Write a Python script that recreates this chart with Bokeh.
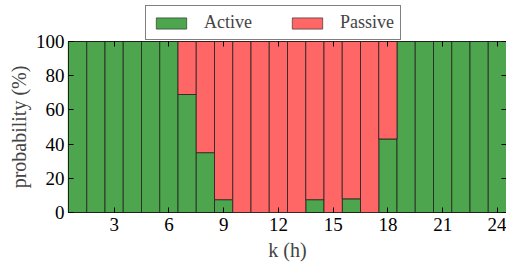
from bokeh.plotting import figure
from bokeh.layouts import column
from bokeh.models import (ColumnDataSource, Legend, LegendItem, FixedTicker, Range1d,
                          LinearAxis)
from bokeh.embed import file_html
from bokeh.resources import INLINE

hours = list(range(1, 25))
active = [100, 100, 100, 100, 100, 100, 69, 35, 7.5, 0, 0, 0, 0, 7.5, 0, 8, 0, 43,
          100, 100, 100, 100, 100, 100]
passive = [100 - a for a in active]
x_ticks = [3, 6, 9, 12, 15, 18, 21, 24]
y_ticks = [0, 20, 40, 60, 80, 100]

FONT = "Liberation Serif"
COLORS = ["#4DA64D", "#FF6666"]
W = 506
src = ColumnDataSource(dict(k=hours, Active=active, Passive=passive))

# ---- main chart
p = figure(width=W, height=231, output_backend="svg", toolbar_location=None,
           x_range=Range1d(0.5, 24.5), y_range=Range1d(0, 100),
           min_border_left=68, min_border_right=0, min_border_top=9, min_border_bottom=0)
p.border_fill_color = None

p.vbar_stack(["Active", "Passive"], x="k", width=1.0, source=src,
             color=COLORS, line_color="#222222", line_alpha=0.8, line_width=1)

p.grid.visible = False
p.outline_line_color = "black"
p.outline_line_width = 1.2

for ax in (p.xaxis[0], p.yaxis[0]):
    ax.axis_line_color = None
    ax.major_tick_in = 5
    ax.major_tick_out = 0
    ax.minor_tick_line_color = None
    ax.major_label_text_font = FONT
    ax.major_label_text_font_size = "19px"
    ax.major_label_text_color = "black"
    ax.axis_label_text_font = FONT
    ax.axis_label_text_font_size = "20px"
    ax.axis_label_text_font_style = "normal"
p.xaxis[0].ticker = FixedTicker(ticks=x_ticks)
p.yaxis[0].ticker = FixedTicker(ticks=y_ticks)
p.xaxis[0].axis_label = "k (h)"
p.yaxis[0].axis_label = "probability (%)"
p.xaxis[0].major_label_standoff = 5
p.yaxis[0].major_label_standoff = 4
p.xaxis[0].axis_label_standoff = 5
p.yaxis[0].axis_label_standoff = 3

# mirrored inner ticks on top and right (no labels)
top_ax = LinearAxis(ticker=FixedTicker(ticks=x_ticks), axis_line_color=None,
                    major_tick_in=5, major_tick_out=0, minor_tick_line_color=None,
                    major_label_overrides={t: "" for t in x_ticks},
                    major_label_standoff=0)
p.add_layout(top_ax, "above")
right_ax = LinearAxis(ticker=FixedTicker(ticks=y_ticks), axis_line_color=None,
                      major_tick_in=5, major_tick_out=0, minor_tick_line_color=None,
                      major_label_overrides={t: "" for t in y_ticks},
                      major_label_standoff=0)
p.add_layout(right_ax, "right")

# ---- legend strip (its bars sit outside its own visible range)
lg = figure(width=W, height=40, output_backend="svg", toolbar_location=None,
            x_range=Range1d(-10, -9), y_range=Range1d(0, 1),
            x_axis_type=None, y_axis_type=None,
            min_border_left=0, min_border_right=0, min_border_top=0, min_border_bottom=0,
            margin=(0, 0, -8, 0))
lg.outline_line_color = None
lg.grid.visible = False
rl = lg.vbar_stack(["Active", "Passive"], x="k", width=1.0, source=src,
                   color=COLORS, line_color="#222222", line_alpha=0.6, line_width=1)

legend = Legend(items=[LegendItem(label="Active", renderers=[rl[0]]),
                       LegendItem(label="Passive", renderers=[rl[1]])],
                orientation="horizontal", location=(77, 0),
                label_text_font=FONT, label_text_font_size="18px",
                glyph_width=38, glyph_height=14, spacing=36, padding=6,
                label_standoff=14, margin=0,
                border_line_color="black", border_line_width=1.2)
lg.add_layout(legend)

layout = column(lg, p, spacing=0)
open("out.html", "w").write(file_html(layout, INLINE))
